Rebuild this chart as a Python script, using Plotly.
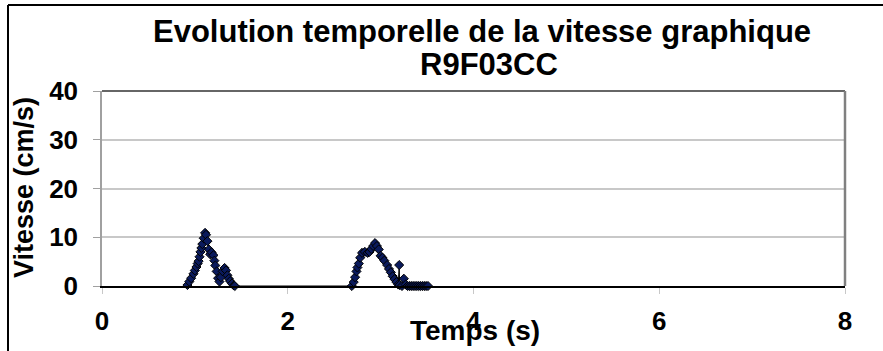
import plotly.graph_objects as go

# ---- data ----
t_values = [
    0.92, 0.94, 0.96, 0.985, 1.00, 1.017, 1.03, 1.04, 1.05, 1.06, 1.07, 1.08, 1.095,
    1.11, 1.12, 1.135, 1.15, 1.165, 1.18, 1.20, 1.21, 1.22, 1.235, 1.25, 1.265,
    1.28, 1.30, 1.32, 1.335, 1.35, 1.365, 1.38, 1.40, 1.42, 1.43,
    2.69, 2.71, 2.725, 2.74, 2.75, 2.765, 2.78, 2.80, 2.83, 2.86, 2.88, 2.90, 2.92,
    2.94, 2.96, 2.98, 3.00, 3.02, 3.04, 3.07, 3.09, 3.11, 3.13, 3.15, 3.17, 3.19,
    3.20, 3.205, 3.23, 3.25, 3.27, 3.29, 3.31, 3.33, 3.35, 3.37, 3.39, 3.41, 3.43,
    3.45, 3.47, 3.49, 3.51,
]
v_values = [
    0.2, 0.9, 1.6, 2.5, 3.2, 3.9, 4.6, 5.1, 6.0, 7.0, 7.8, 8.6, 9.8,
    10.9, 10.5, 9.2, 7.5, 6.5, 6.9, 6.3, 5.2, 4.2, 3.0, 1.6, 0.9,
    1.8, 3.0, 3.7, 3.2, 2.2, 1.5, 1.0, 0.5, 0.1, 0.0,
    0.0, 0.8, 1.8, 3.0, 3.8, 4.6, 5.8, 6.8, 7.0, 6.8, 7.0, 7.6, 8.2,
    8.8, 8.2, 7.5, 6.2, 5.8, 5.2, 4.3, 3.5, 2.8, 2.0, 1.4, 0.8, 0.3,
    4.3, 0.2, 0.0, 1.5, 0.3, 0.0, 0.0, 0.0, 0.0, 0.0, 0.0, 0.0, 0.0,
    0.0, 0.0, 0.0, 0.0,
]
x_ticks = [0, 2, 4, 6, 8]
y_ticks = [0, 10, 20, 30, 40]
title_line1 = "Evolution temporelle de la vitesse graphique"
title_line2 = "R9F03CC"
x_title = "Temps (s)"
y_title = "Vitesse (cm/s)"

FONT = "Arial, 'Liberation Sans', sans-serif"

fig = go.Figure()
fig.add_trace(go.Scatter(
    x=t_values, y=v_values, mode="lines+markers",
    line=dict(color="black", width=1),
    marker=dict(symbol="diamond", size=7, color="#0a1a5c",
                line=dict(color="black", width=1)),
    showlegend=False, cliponaxis=False,
))

L, R, T, B = 102, 38, 91, 65
W, H = 883, 351
pw, ph = W - L - R, H - T - B

def px_x(px):
    return (px - L) / pw

def px_y(py):
    return (H - B - py) / ph

fig.update_layout(
    width=W, height=H,
    margin=dict(l=L, r=R, t=T, b=B, pad=0),
    paper_bgcolor="white", plot_bgcolor="white",
    font=dict(family=FONT, color="black"),
    xaxis=dict(range=[0, 8], tickvals=x_ticks, showgrid=False, zeroline=False,
               showline=True, linecolor="black", linewidth=2,
               ticks="outside", ticklen=6, tickcolor="#c8c8c8", tickwidth=1,
               tickfont=dict(size=26, weight="bold", family=FONT),
               ticklabelstandoff=5),
    yaxis=dict(range=[0, 40], tickvals=y_ticks, showgrid=True, gridcolor="#c8c8c8",
               gridwidth=1.5, zeroline=False,
               showline=True, linecolor="#a0a0a0", linewidth=1.5,
               ticks="outside", ticklen=7, tickcolor="#a0a0a0", tickwidth=1,
               tickfont=dict(size=26, weight="bold", family=FONT),
               ticklabelstandoff=10),
    shapes=[
        # plot-area top and right borders
        dict(type="line", xref="paper", yref="paper", x0=0, x1=1, y0=1, y1=1,
             line=dict(color="#333333", width=1.5)),
        dict(type="line", xref="paper", yref="paper", x0=1, x1=1, y0=0, y1=1,
             line=dict(color="#808080", width=2.5)),
        # outer chart frame (left and top edges visible)
        dict(type="line", xref="paper", yref="paper", x0=px_x(8), x1=px_x(8),
             y0=px_y(5), y1=px_y(360), line=dict(color="black", width=2)),
        dict(type="line", xref="paper", yref="paper", x0=px_x(8), x1=px_x(890),
             y0=px_y(5), y1=px_y(5), line=dict(color="black", width=2)),
    ],
    annotations=[
        dict(text=title_line1, xref="paper", yref="paper", x=px_x(482), y=px_y(31),
             xanchor="center", yanchor="middle", showarrow=False,
             font=dict(size=31, weight="bold", family=FONT)),
        dict(text=title_line2, xref="paper", yref="paper", x=px_x(489), y=px_y(64),
             xanchor="center", yanchor="middle", showarrow=False,
             font=dict(size=31, weight="bold", family=FONT)),
        dict(text=x_title, xref="paper", yref="paper", x=px_x(475), y=px_y(330),
             xanchor="center", yanchor="middle", showarrow=False,
             font=dict(size=28, weight="bold", family=FONT)),
        dict(text=y_title, xref="paper", yref="paper", x=px_x(24), y=px_y(188),
             xanchor="center", yanchor="middle", showarrow=False, textangle=-90,
             font=dict(size=27, weight="bold", family=FONT)),
    ],
)

fig.write_html("out.html", config={"displayModeBar": False},
               post_script="document.body.style.margin='0';document.body.style.overflow='hidden';")
